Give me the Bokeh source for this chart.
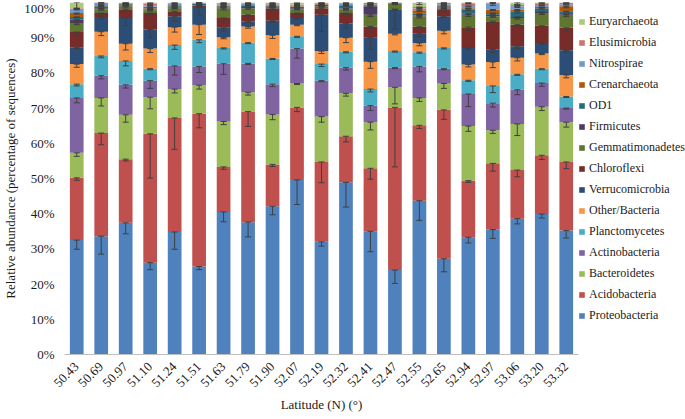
import math
from bokeh.plotting import figure
from bokeh.models import (ColumnDataSource, FactorRange, Range1d, FixedTicker,
                          PrintfTickFormatter, Legend, LegendItem, Whisker, TeeHead)
from bokeh.embed import file_html
from bokeh.resources import INLINE

latitudes = ["50.43", "50.69", "50.97", "51.10", "51.24", "51.51", "51.63", "51.79",
             "51.90", "52.07", "52.19", "52.32", "52.41", "52.47", "52.55", "52.65",
             "52.94", "52.97", "53.06", "53.20", "53.32"]

phyla = ["Proteobacteria", "Acidobacteria", "Bacteroidetes", "Actinobacteria",
         "Planctomycetes", "Other/Bacteria", "Verrucomicrobia", "Chloroflexi",
         "Gemmatimonadetes", "Firmicutes", "OD1", "Crenarchaeota", "Nitrospirae",
         "Elusimicrobia", "Euryarchaeota"]

colors = ["#4F81BD", "#C0504D", "#9BBB59", "#8064A2", "#4BACC6", "#F79646",
          "#2C4D75", "#772C2A", "#5F7530", "#4D3B62", "#276A7C", "#B65708",
          "#729ACA", "#CD7371", "#AFC97A"]

# relative abundance (%) per latitude
proteobacteria   = [32.5, 33.6, 37.4, 26.1, 34.8, 25.0, 40.5, 37.6, 42.1, 49.6, 32.0, 48.9, 35.0, 24.0, 43.7, 27.2, 33.3, 35.5, 38.6, 39.9, 35.2]
acidobacteria    = [17.7, 29.3, 18.1, 36.6, 32.4, 43.4, 12.8, 31.4, 11.9, 20.6, 22.7, 13.1, 17.9, 46.2, 21.4, 42.3, 16.1, 18.8, 13.8, 16.7, 19.5]
bacteroidetes    = [7.1, 10.0, 12.6, 10.4, 8.2, 8.1, 12.9, 5.5, 14.2, 6.8, 12.9, 12.2, 13.1, 5.7, 7.8, 7.5, 15.5, 9.4, 13.1, 13.8, 11.3]
actinobacteria   = [15.6, 6.3, 8.5, 4.7, 6.6, 5.3, 16.4, 8.2, 8.6, 9.9, 10.2, 7.3, 4.7, 5.6, 8.9, 4.2, 9.1, 7.7, 9.7, 6.7, 4.0]
planctomycetes   = [3.9, 5.6, 6.8, 3.4, 5.9, 7.6, 4.5, 5.9, 7.3, 3.5, 4.7, 4.5, 4.7, 4.7, 4.1, 5.9, 3.9, 4.9, 4.4, 4.1, 3.3]
other_bacteria   = [5.7, 6.9, 4.9, 5.7, 5.1, 4.3, 3.0, 4.6, 6.6, 3.3, 3.7, 4.0, 7.8, 4.9, 2.6, 4.9, 4.5, 6.8, 4.7, 4.3, 6.1]
verrucomicrobia  = [4.8, 4.2, 7.3, 5.4, 3.1, 5.0, 2.7, 1.5, 4.1, 1.9, 10.3, 4.0, 6.8, 6.8, 2.6, 4.1, 4.7, 3.6, 3.3, 3.0, 7.0]
chloroflexi      = [4.3, 1.1, 2.5, 4.7, 1.4, 0.3, 2.8, 1.8, 3.6, 1.4, 1.9, 3.0, 3.2, 0.2, 2.0, 1.8, 5.9, 8.0, 6.1, 4.9, 6.4]
gemmatimonadetes = [2.6, 1.1, 0.8, 0.8, 0.9, 0.2, 2.8, 1.9, 0.3, 1.1, 0.5, 1.1, 3.3, 1.6, 3.0, 0.4, 3.5, 1.4, 1.9, 3.6, 3.7]
firmicutes       = [0.9, 0.3, 0.2, 0.2, 0.1, 0.1, 0.2, 0.3, 0.1, 0.3, 0.1, 0.2, 2.4, 0.1, 0.2, 0.2, 0.3, 0.4, 0.3, 0.3, 0.2]
od1              = [0.8, 0.5, 0.4, 0.3, 0.4, 0.3, 0.3, 0.4, 0.3, 0.4, 0.3, 0.8, 0.3, 0.1, 0.5, 0.4, 1.3, 0.5, 1.6, 1.1, 0.8]
crenarchaeota    = [1.1, 0.3, 0.1, 0.5, 0.3, 0.1, 0.2, 0.2, 0.1, 0.1, 0.2, 0.2, 0.2, 0.0, 1.0, 0.3, 0.3, 1.0, 0.5, 0.3, 1.4]
nitrospirae      = [1.2, 0.4, 0.2, 0.4, 0.4, 0.2, 0.4, 0.3, 0.2, 0.3, 0.2, 0.3, 0.2, 0.0, 0.5, 0.3, 0.6, 1.7, 0.9, 0.6, 0.6]
elusimicrobia    = [0.2, 0.4, 0.1, 0.4, 0.2, 0.1, 0.3, 0.2, 0.4, 0.2, 0.2, 0.2, 0.3, 0.1, 0.4, 0.4, 0.8, 0.3, 0.4, 0.5, 0.4]
euryarchaeota    = [1.6, 0.0, 0.1, 0.4, 0.2, 0.0, 0.2, 0.2, 0.2, 0.6, 0.1, 0.2, 0.1, 0.0, 1.3, 0.1, 0.2, 0.0, 0.7, 0.2, 0.1]

# standard errors (%)
err_proteobacteria   = [2.6, 5.1, 3.1, 2.0, 4.9, 0.9, 2.8, 4.2, 2.4, 7.0, 1.2, 7.0, 5.8, 3.8, 5.6, 3.7, 1.6, 2.5, 1.5, 1.1, 2.1]
err_acidobacteria    = [0.7, 3.3, 0.5, 12.6, 8.9, 4.0, 0.7, 4.2, 0.6, 1.2, 5.9, 1.6, 3.1, 16.9, 0.9, 2.7, 0.5, 2.2, 1.9, 1.2, 1.9]
err_bacteroidetes    = [1.0, 2.3, 2.1, 3.3, 1.1, 1.1, 0.9, 0.8, 1.5, 0.3, 1.6, 0.8, 2.2, 4.7, 1.0, 1.4, 1.5, 0.9, 3.3, 1.1, 1.4]
err_actinobacteria   = [1.4, 0.9, 0.9, 2.2, 2.6, 1.7, 3.0, 0.3, 0.7, 2.7, 0.3, 0.7, 1.4, 0.3, 1.5, 0.3, 3.6, 1.1, 1.4, 0.9, 0.3]
err_planctomycetes   = [0.5, 0.5, 1.4, 0.3, 1.2, 0.8, 0.3, 0.3, 0.3, 0.3, 0.7, 0.3, 0.8, 0.3, 0.3, 0.3, 0.3, 1.9, 0.3, 0.3, 0.3]
err_other_bacteria   = [0.9, 1.1, 1.8, 1.1, 1.4, 2.8, 0.4, 0.5, 0.9, 0.3, 0.7, 1.4, 1.9, 0.3, 0.8, 0.9, 0.7, 1.6, 0.9, 0.3, 0.8]
err_verrucomicrobia  = [0.4, 0.6, 2.2, 2.3, 1.4, 2.2, 0.9, 0.4, 0.4, 0.3, 4.7, 1.2, 3.3, 5.4, 0.8, 0.4, 0.3, 0.9, 0.7, 0.3, 0.4]
err_chloroflexi      = [1.1, 0.3, 0.5, 0.5, 0.3, 0.2, 1.2, 0.3, 0.6, 0.3, 0.3, 0.4, 0.5, 0.1, 0.4, 0.3, 0.9, 0.4, 0.4, 0.4, 0.9]
err_gemmatimonadetes = [0.5, 0.3, 0.2, 0.2, 0.2, 0.1, 0.5, 0.3, 0.1, 0.2, 0.2, 0.3, 0.5, 0.3, 0.5, 0.1, 0.5, 0.3, 0.3, 0.4, 0.5]
err_firmicutes       = [0.2, 0.1, 0.1, 0.1, 0.1, 0.1, 0.1, 0.1, 0.1, 0.1, 0.1, 0.1, 0.4, 0.1, 0.1, 0.1, 0.1, 0.2, 0.1, 0.1, 0.1]
err_od1              = [0.2, 0.2, 0.1, 0.1, 0.2, 0.1, 0.1, 0.1, 0.1, 0.2, 0.1, 0.3, 0.1, 0.1, 0.2, 0.1, 0.4, 0.2, 0.5, 0.3, 0.2]
err_crenarchaeota    = [0.3, 0.1, 0.1, 0.2, 0.1, 0.1, 0.1, 0.1, 0.1, 0.1, 0.1, 0.1, 0.1, 0.0, 0.3, 0.1, 0.1, 0.3, 0.2, 0.1, 0.4]
err_nitrospirae      = [0.3, 0.1, 0.1, 0.1, 0.1, 0.1, 0.1, 0.1, 0.1, 0.1, 0.1, 0.1, 0.1, 0.0, 0.2, 0.1, 0.2, 0.5, 0.3, 0.2, 0.2]
err_elusimicrobia    = [0.1, 0.1, 0.1, 0.1, 0.1, 0.1, 0.1, 0.1, 0.1, 0.1, 0.1, 0.1, 0.1, 0.1, 0.1, 0.1, 0.2, 0.1, 0.1, 0.2, 0.1]
err_euryarchaeota    = [1.9, 0.0, 0.1, 0.2, 0.1, 0.0, 0.1, 0.1, 0.1, 0.3, 0.1, 0.1, 0.1, 0.0, 0.6, 0.1, 0.1, 0.0, 0.5, 0.1, 0.1]

values = [proteobacteria, acidobacteria, bacteroidetes, actinobacteria, planctomycetes,
          other_bacteria, verrucomicrobia, chloroflexi, gemmatimonadetes, firmicutes,
          od1, crenarchaeota, nitrospirae, elusimicrobia, euryarchaeota]
errors = [err_proteobacteria, err_acidobacteria, err_bacteroidetes, err_actinobacteria,
          err_planctomycetes, err_other_bacteria, err_verrucomicrobia, err_chloroflexi,
          err_gemmatimonadetes, err_firmicutes, err_od1, err_crenarchaeota,
          err_nitrospirae, err_elusimicrobia, err_euryarchaeota]

FONT = "Liberation Serif"
TXT = "#1a1a1a"
FRAME_W = 514
FRAME_H = 352

data = {"lat": latitudes}
for name, vals in zip(phyla, values):
    data[name] = vals
source = ColumnDataSource(data)

p = figure(x_range=FactorRange(*latitudes), y_range=Range1d(0, 100),
           frame_width=FRAME_W, frame_height=FRAME_H,
           output_backend="svg", toolbar_location=None,
           min_border_top=2, min_border_left=0, min_border_right=0, min_border_bottom=2)

renderers = p.vbar_stack(phyla, x="lat", width=0.56, fill_color=colors,
                         line_color=None, source=source)

# error bars at the top of each stacked segment
cum = [0.0] * len(latitudes)
for vals, errs in zip(values, errors):
    cum = [c + v for c, v in zip(cum, vals)]
    es = ColumnDataSource(dict(lat=latitudes, upper=cum,
                               lower=[c - e for c, e in zip(cum, errs)]))
    w = Whisker(base="lat", upper="upper", lower="lower", source=es,
                dimension="height", line_color="#3f3f3f", line_width=1,
                level="overlay",
                upper_head=TeeHead(size=6, line_color="#3f3f3f", line_width=1),
                lower_head=TeeHead(size=6, line_color="#3f3f3f", line_width=1))
    p.add_layout(w)

items = [LegendItem(label=n, renderers=[r]) for n, r in zip(phyla, renderers)]
items.reverse()
legend = Legend(items=items, location=(0, 31), glyph_width=7, glyph_height=7,
                label_height=14, spacing=6, padding=0, margin=0,
                border_line_color=None, background_fill_alpha=0,
                label_text_font=FONT, label_text_font_size="12px",
                label_text_color=TXT, label_standoff=4)
p.add_layout(legend, "right")

p.xgrid.visible = False
p.ygrid.visible = False
p.outline_line_color = None

p.yaxis.ticker = FixedTicker(ticks=list(range(0, 101, 10)))
p.yaxis.formatter = PrintfTickFormatter(format="%d%%")
p.yaxis.axis_line_color = None
p.yaxis.major_tick_line_color = None
p.yaxis.minor_tick_line_color = None
p.yaxis.axis_label = "Relative abundance (percentage of sequences)"
p.yaxis.major_label_standoff = 4

p.xaxis.axis_label = "Latitude (N) (°)"
p.xaxis.axis_line_color = "#bfbfbf"
p.xaxis.major_tick_line_color = None
p.xaxis.minor_tick_line_color = None
p.xaxis.major_label_orientation = math.pi / 4
p.xaxis.major_label_standoff = 4

for ax in (p.xaxis, p.yaxis):
    ax.axis_label_text_font = FONT
    ax.axis_label_text_font_size = "13px"
    ax.axis_label_text_font_style = "normal"
    ax.axis_label_text_color = TXT
    ax.axis_label_standoff = 3
    ax.major_label_text_font = FONT
    ax.major_label_text_font_size = "13px"
    ax.major_label_text_color = TXT

open("out.html", "w").write(file_html(p, INLINE))
